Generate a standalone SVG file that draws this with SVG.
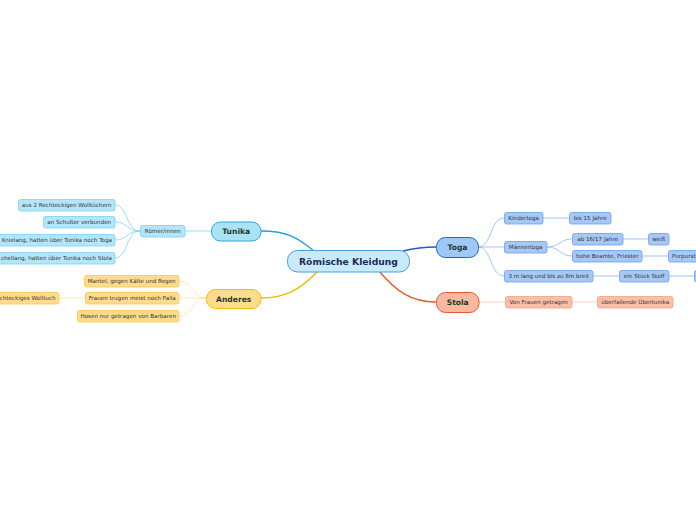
<svg xmlns="http://www.w3.org/2000/svg" width="696" height="520" viewBox="0 0 696 520">
<style>
text{font-family:"DejaVu Sans","Liberation Sans",sans-serif;text-anchor:middle}
.sub{font-size:5.6px;fill:#333}
.main{font-size:7.6px;font-weight:bold;fill:#1d3b2a}
.root{font-size:9.2px;font-weight:bold;fill:#1a2d55}
.tsub{fill:#b4e6fa;stroke:#7fcff1;stroke-width:0.8}
.gsub{fill:#a6c8f6;stroke:#6c9fee;stroke-width:0.8}
.ssub{fill:#fbbfa9;stroke:#f3a082;stroke-width:0.8}
.asub{fill:#ffdb8e;stroke:#fbc64e;stroke-width:0.8}
.c{fill:none}
</style>
<rect width="696" height="520" fill="#fff"/>
<g id="connectors">
<path class="c" d="M261,231 C290,231 300,240 314,251" stroke="#1ea2e2" stroke-width="1.4"/>
<path class="c" d="M403,251 C415,248 425,247 436,247" stroke="#1d5ec8" stroke-width="1.4"/>
<path class="c" d="M379,271 C395,290 410,302 436,302" stroke="#ea5a2b" stroke-width="1.4"/>
<path class="c" d="M318,271 C300,290 285,298 261,298" stroke="#f6b800" stroke-width="1.4"/>
<g stroke="#82d3f4" stroke-width="0.8">
<path class="c" d="M211,231 L185,231"/>
<path class="c" d="M140,231 C126,231 128,205 115,205"/>
<path class="c" d="M140,231 C126,231 128,222 115,222"/>
<path class="c" d="M140,231 C126,231 128,240 115,240"/>
<path class="c" d="M140,231 C126,231 128,258 115,258"/>
</g>
<g stroke="#ffdf9c" stroke-width="0.8">
<path class="c" d="M206,298 C192,298 193,281 179,281"/>
<path class="c" d="M206,298 L179,298"/>
<path class="c" d="M206,298 C192,298 193,316 179,316"/>
<path class="c" d="M85,298 L59,298"/>
</g>
<g stroke="#8bb4f1" stroke-width="0.8">
<path class="c" d="M478,247 C492,247 490,218 504,218"/>
<path class="c" d="M478,247 L504,247"/>
<path class="c" d="M478,247 C492,247 490,276 504,276"/>
<path class="c" d="M543,218 L569,218"/>
<path class="c" d="M547,247 C560,247 560,239 572,239"/>
<path class="c" d="M547,247 C560,247 560,256 572,256"/>
<path class="c" d="M623,239 L648,239"/>
<path class="c" d="M642,256 L668,256"/>
<path class="c" d="M593,276 L619,276"/>
<path class="c" d="M669,276 L694,276"/>
</g>
<g stroke="#f9c6b3" stroke-width="0.8">
<path class="c" d="M479,302 L505,302"/>
<path class="c" d="M572,302 L597,302"/>
</g>
</g>
<g id="root"><rect x="287.5" y="250.5" width="122" height="21.5" rx="10" fill="#c8eafb" stroke="#4aa0d8" stroke-width="1"/><text class="root" x="348.5" y="264.5">Römische Kleidung</text></g>
<g id="tunika"><rect x="211.5" y="222" width="49.5" height="19" rx="9" fill="#aae3f8" stroke="#2aa8e2" stroke-width="1"/><text class="main" x="236.2" y="234.3">Tunika</text></g>
<g id="toga"><rect x="436.5" y="237.5" width="42" height="20" rx="9" fill="#9fc8f7" stroke="#2167cf" stroke-width="1"/><text class="main" x="457.5" y="250.2">Toga</text></g>
<g id="stola"><rect x="436.5" y="292.5" width="42.5" height="20" rx="9" fill="#f9b9a1" stroke="#e9592d" stroke-width="1"/><text class="main" x="457.7" y="305.2">Stola</text></g>
<g id="anderes"><rect x="206.5" y="289.5" width="54.5" height="19" rx="9" fill="#ffdc8a" stroke="#f6ba10" stroke-width="1"/><text class="main" x="233.7" y="301.8">Anderes</text></g>
<g id="roemer"><rect class="tsub" x="140.5" y="225.5" width="44.5" height="11.5" rx="2"/><text class="sub" x="162.7" y="233.2">Römer/innen</text></g>
<g id="t1"><rect class="tsub" x="18.5" y="199.5" width="96.5" height="11.5" rx="2"/><text class="sub" x="66.7" y="207.2">aus 2 Rechteckigen Wolltüchern</text></g>
<g id="t2"><rect class="tsub" x="43.5" y="216.5" width="71.5" height="11.5" rx="2"/><text class="sub" x="79.2" y="224.2">an Schulter verbunden</text></g>
<g id="t3"><rect class="tsub" x="-10" y="234.5" width="125" height="11.5" rx="2"/><text class="sub" x="112" y="242.2" style="text-anchor:end">Knielang, hatten über Tunika noch Toga</text></g>
<g id="t4"><rect class="tsub" x="-10" y="252.5" width="125" height="11.5" rx="2"/><text class="sub" x="112" y="260.2" style="text-anchor:end">chellang, hatten über Tunika noch Stola</text></g>
<g id="a1"><rect class="asub" x="84.5" y="275.5" width="94.5" height="11.5" rx="2"/><text class="sub" x="131.7" y="283.2">Mantel, gegen Kälte und Regen</text></g>
<g id="a2"><rect class="asub" x="85.5" y="292.5" width="93.5" height="11.5" rx="2"/><text class="sub" x="132.2" y="300.2">Frauen trugen meist noch Palla</text></g>
<g id="a3"><rect class="asub" x="77.5" y="310.5" width="101.5" height="11.5" rx="2"/><text class="sub" x="128.2" y="318.2">Hosen nur getragen von Barbaren</text></g>
<g id="a4"><rect class="asub" x="-10" y="292.5" width="69" height="11.5" rx="2"/><text class="sub" x="55.5" y="300.2" style="text-anchor:end">chteckiges Wolltuch</text></g>
<g id="g1"><rect class="gsub" x="504.5" y="212.5" width="38.5" height="11.5" rx="2"/><text class="sub" x="523.7" y="220.2">Kindertoga</text></g>
<g id="g2"><rect class="gsub" x="504.5" y="241.5" width="42.5" height="11.5" rx="2"/><text class="sub" x="525.7" y="249.2">Männertoga</text></g>
<g id="g3"><rect class="gsub" x="504.5" y="270.5" width="88.5" height="11.5" rx="2"/><text class="sub" x="548.7" y="278.2">3 m lang und bis zu 8m breit</text></g>
<g id="g4"><rect class="gsub" x="569.5" y="212.5" width="41.5" height="11.5" rx="2"/><text class="sub" x="590.2" y="220.2">bis 15 Jahre</text></g>
<g id="g5"><rect class="gsub" x="572.5" y="233.5" width="50.5" height="11.5" rx="2"/><text class="sub" x="597.7" y="241.2">ab 16/17 Jahre</text></g>
<g id="g6"><rect class="gsub" x="572.5" y="250.5" width="69.5" height="11.5" rx="2"/><text class="sub" x="607.2" y="258.2">hohe Beamte, Priester</text></g>
<g id="g7"><rect class="gsub" x="648.5" y="233.5" width="20.5" height="11.5" rx="2"/><text class="sub" x="658.7" y="241.2">weiß</text></g>
<g id="g8"><rect class="gsub" x="668.5" y="250.5" width="40" height="11.5" rx="2"/><text class="sub" x="672" y="258.2" style="text-anchor:start">Purpurst</text></g>
<g id="g9"><rect class="gsub" x="619.5" y="270.5" width="49.5" height="11.5" rx="2"/><text class="sub" x="644.2" y="278.2">ein Stück Stoff</text></g>
<g id="g10"><rect class="gsub" x="694.5" y="270.5" width="20" height="11.5" rx="2"/></g>
<g id="s1"><rect class="ssub" x="505.5" y="296.5" width="66.5" height="11.5" rx="2"/><text class="sub" x="538.7" y="304.2">Von Frauen getragen</text></g>
<g id="s2"><rect class="ssub" x="597.5" y="296.5" width="75.5" height="11.5" rx="2"/><text class="sub" x="635.2" y="304.2">überfallende Übertunika</text></g>
</svg>
